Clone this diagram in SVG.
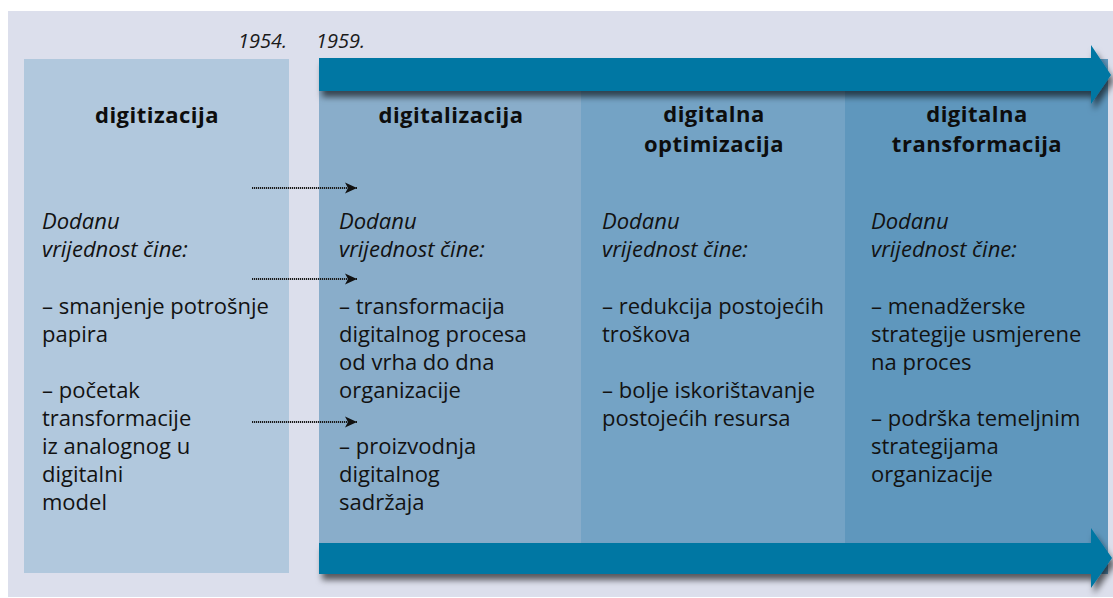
<svg xmlns="http://www.w3.org/2000/svg" width="1113" height="598" viewBox="0 0 1113 598">
<style>
.title{font-family:"Open Sans","Noto Sans",sans-serif;font-weight:bold;font-size:22px;letter-spacing:0.5px;fill:#0d0d0d;text-anchor:middle}
.body{font-family:"Open Sans","Noto Sans",sans-serif;font-size:22px;fill:#121212}
.it{font-style:italic}
.year{font-family:"Open Sans","Noto Sans",sans-serif;font-style:italic;font-size:20px;fill:#1a1a1a}
.dot{stroke:#1a1a1a;stroke-width:1.8;stroke-dasharray:1.2 0.8;fill:none}
.band{fill:#0077a3}
</style>
<defs>
<filter id="sh" x="-5%" y="-30%" width="115%" height="180%">
<feDropShadow dx="3" dy="6" stdDeviation="3" flood-color="#000" flood-opacity="0.6"/>
</filter>
<marker id="ah" markerWidth="14" markerHeight="12" refX="12" refY="6" orient="auto" markerUnits="userSpaceOnUse">
<path d="M0,0.5 L12,6 L0,11.5 L3,6 Z" fill="#111"/>
</marker>
</defs>
<rect width="1113" height="598" fill="#ffffff"/>
<rect x="8" y="11" width="1105" height="586" fill="#dcdfec"/>
<g id="years">
<text class="year" x="238" y="48">1954.</text>
<text class="year" x="316" y="48">1959.</text>
</g>
<g id="node-digitizacija">
<rect x="24" y="59" width="265" height="514" fill="#b1c8dd"/>
<text class="title" x="157" y="123">digitizacija</text>
<text class="body it" x="42" y="229">Dodanu</text>
<text class="body it" x="42" y="257">vrijednost čine:</text>
<text class="body" x="42" y="314">– smanjenje potrošnje</text>
<text class="body" x="42" y="342">papira</text>
<text class="body" x="42" y="398">– početak</text>
<text class="body" x="42" y="426">transformacije</text>
<text class="body" x="42" y="454">iz analognog u</text>
<text class="body" x="42" y="482">digitalni</text>
<text class="body" x="42" y="510">model</text>
</g>
<g id="node-digitalizacija">
<rect x="319" y="59" width="262" height="515" fill="#89adca"/>
</g>
<g id="node-optimizacija">
<rect x="581" y="59" width="264" height="515" fill="#74a3c5"/>
</g>
<g id="node-transformacija">
<rect x="845" y="59" width="263" height="515" fill="#5f97bd"/>
</g>
<g id="timeline-arrows" filter="url(#sh)">
<path class="band" d="M319,58 H1091 V45 L1111,75 L1091,104 V91 H319 Z"/>
<path class="band" d="M319,543 H1091 V528 L1112,558 L1091,588 V574 H319 Z"/>
</g>
<g id="labels-digitalizacija">
<text class="title" x="451" y="123">digitalizacija</text>
<text class="body it" x="339" y="229">Dodanu</text>
<text class="body it" x="339" y="257">vrijednost čine:</text>
<text class="body" x="339" y="314">– transformacija</text>
<text class="body" x="339" y="342">digitalnog procesa</text>
<text class="body" x="339" y="370">od vrha do dna</text>
<text class="body" x="339" y="398">organizacije</text>
<text class="body" x="339" y="454">– proizvodnja</text>
<text class="body" x="339" y="482">digitalnog</text>
<text class="body" x="339" y="510">sadržaja</text>
</g>
<g id="labels-optimizacija">
<text class="title" x="714" y="122">digitalna</text>
<text class="title" x="714" y="152">optimizacija</text>
<text class="body it" x="602" y="229">Dodanu</text>
<text class="body it" x="602" y="257">vrijednost čine:</text>
<text class="body" x="602" y="314">– redukcija postojećih</text>
<text class="body" x="602" y="342">troškova</text>
<text class="body" x="602" y="398">– bolje iskorištavanje</text>
<text class="body" x="602" y="426">postojećih resursa</text>
</g>
<g id="labels-transformacija">
<text class="title" x="977" y="122">digitalna</text>
<text class="title" x="977" y="152">transformacija</text>
<text class="body it" x="871" y="229">Dodanu</text>
<text class="body it" x="871" y="257">vrijednost čine:</text>
<text class="body" x="871" y="314">– menadžerske</text>
<text class="body" x="871" y="342">strategije usmjerene</text>
<text class="body" x="871" y="370">na proces</text>
<text class="body" x="871" y="426">– podrška temeljnim</text>
<text class="body" x="871" y="454">strategijama</text>
<text class="body" x="871" y="482">organizacije</text>
</g>
<g id="connectors">
<line class="dot" x1="252" y1="188" x2="357" y2="188" marker-end="url(#ah)"/>
<line class="dot" x1="252" y1="279" x2="357" y2="279" marker-end="url(#ah)"/>
<line class="dot" x1="252" y1="422" x2="357" y2="422" marker-end="url(#ah)"/>
</g>
</svg>
